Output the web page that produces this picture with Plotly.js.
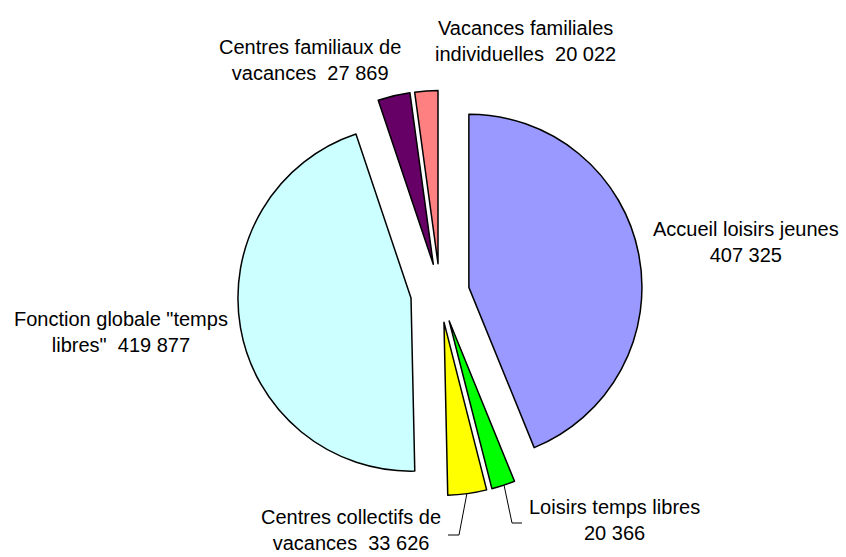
<!DOCTYPE html>
<html>
<head>
<meta charset="utf-8">
<script src="https://cdn.plot.ly/plotly-3.0.1.min.js"></script>
<style>
    html, body { margin: 0; padding: 0; background: #ffffff; }
    #pieChart { width: 846px; height: 557px; }
</style>
</head>
<body>
<div id="pieChart"></div>
<script>
const categories = [
    'Accueil loisirs jeunes',
    'Loisirs temps libres',
    'Centres collectifs de vacances',
    'Fonction globale "temps libres"',
    'Centres familiaux de vacances',
    'Vacances familiales individuelles'
];
const amounts = [407325, 20366, 33626, 419877, 27869, 20022];
const sliceColors = ['#9999FF', '#00FF00', '#FFFF00', '#CCFFFF', '#660066', '#FF8080'];
const labelTexts = [
    'Accueil loisirs jeunes<br>407 325',
    'Loisirs temps libres<br>20 366',
    'Centres collectifs de<br>vacances  33 626',
    'Fonction globale "temps<br>libres"  419 877',
    'Centres familiaux de<br>vacances  27 869',
    'Vacances familiales<br>individuelles  20 022'
];

const W = 846, H = 557;
// label centres, in pixels
const labelPos = [[746, 242], [614, 520], [351, 530], [121, 332], [310, 60], [525, 41]];

function px(x) { return x / W; }
function py(y) { return 1 - y / H; }

function drawPie() {
    var pieCenter = [440, 293];
    var halfBox = 202.5;

    var data = [{
        type: 'pie',
        values: amounts,
        labels: categories,
        sort: false,
        direction: 'clockwise',
        rotation: 0,
        pull: amounts.map(() => 0.17),
        textinfo: 'none',
        hoverinfo: 'label+value',
        marker: {
            colors: sliceColors,
            line: { color: '#000000', width: 1.5 }
        },
        domain: {
            x: [px(pieCenter[0] - halfBox), px(pieCenter[0] + halfBox)],
            y: [py(pieCenter[1] + halfBox), py(pieCenter[1] - halfBox)]
        }
    }];

    var annotations = labelTexts.map((text, i) => ({
        text: text,
        xref: 'paper',
        yref: 'paper',
        x: px(labelPos[i][0]),
        y: py(labelPos[i][1]),
        xanchor: 'center',
        yanchor: 'middle',
        showarrow: false,
        align: 'center',
        font: { family: 'Liberation Sans, Arial, sans-serif', size: 20, color: '#000000' }
    }));

    // leader lines for the two small bottom slices
    var leaders = [
        [[467, 493], [459, 535], [448, 535]],
        [[504, 485], [512, 523], [522, 523]]
    ];
    var shapes = leaders.map(pts => ({
        type: 'path',
        xref: 'paper',
        yref: 'paper',
        path: pts.map((p, j) => (j ? 'L' : 'M') + px(p[0]) + ',' + py(p[1])).join(' '),
        line: { color: '#000000', width: 1 }
    }));

    var layout = {
        width: W,
        height: H,
        margin: { l: 0, r: 0, t: 0, b: 0 },
        showlegend: false,
        paper_bgcolor: '#ffffff',
        annotations: annotations,
        shapes: shapes
    };

    Plotly.newPlot('pieChart', data, layout, { displayModeBar: false, staticPlot: true });
}

drawPie();
</script>
</body>
</html>
